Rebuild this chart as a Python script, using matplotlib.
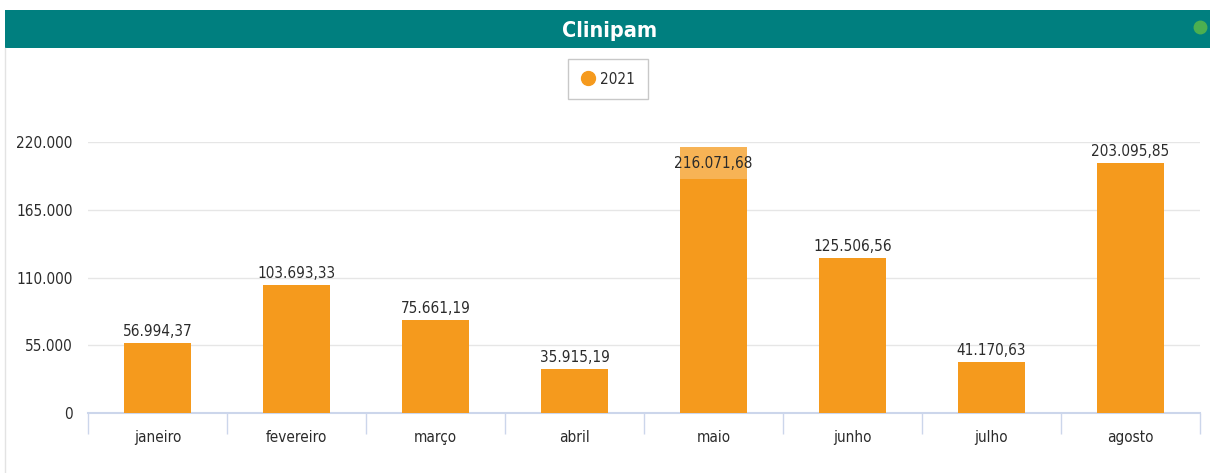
import matplotlib.pyplot as plt
from matplotlib.patches import Rectangle
from matplotlib.lines import Line2D

months = ["janeiro", "fevereiro", "março", "abril", "maio", "junho", "julho", "agosto"]
values_2021 = [56994.37, 103693.33, 75661.19, 35915.19, 216071.68, 125506.56, 41170.63, 203095.85]
y_ticks = [0, 55000, 110000, 165000, 220000]
series_name = "2021"
title = "Clinipam"

bar_color = "#F59A1D"
teal = "#007F7F"
text_color = "#2B2B2B"
axis_color = "#CCD6EB"
plt.rcParams["font.family"] = ["DejaVu Sans"]
plt.rcParams["font.stretch"] = "condensed"


def br_number(v, decimals=2):
    s = f"{v:,.{decimals}f}"
    return s.replace(",", "X").replace(".", ",").replace("X", ".")


fig = plt.figure(figsize=(12.1, 4.73), dpi=100)
fig.patch.set_facecolor("white")

# card border and header
fig.add_artist(Line2D([5 / 1210, 5 / 1210], [0, 1 - 48 / 473], transform=fig.transFigure,
                      color="#E3E3E3", lw=1))
fig.add_artist(Rectangle((5 / 1210, 1 - 48 / 473), 1, 38 / 473, transform=fig.transFigure,
                         facecolor=teal, edgecolor="none"))
fig.text(610 / 1210, 1 - 31 / 473, title, color="white", fontsize=15.5, fontweight="bold",
         ha="center", va="center")
fig.add_artist(Line2D([1200 / 1210], [1 - 27 / 473], transform=fig.transFigure,
                      marker="o", markersize=9, color="#4CAF50", ls=""))

ax = fig.add_axes([88 / 1210, 1 - 413 / 473, (1200 - 88) / 1210, (413 - 142) / 473])
x = range(len(months))
bar_width = 0.48
bars = ax.bar(x, values_2021, width=bar_width, color=bar_color, label=series_name, zorder=3)

ax.set_xlim(-0.5, len(months) - 0.5)
ax.set_ylim(0, 220000)
ax.set_yticks(y_ticks)
ax.set_yticklabels([br_number(t, 0) for t in y_ticks])
ax.set_xticks(list(x))
ax.set_xticklabels(months)
ax.set_xticks([i - 0.5 for i in range(len(months) + 1)], minor=True)
ax.tick_params(axis="x", which="major", length=0, pad=12, labelsize=11, labelcolor=text_color)
ax.tick_params(axis="x", which="minor", length=15, color=axis_color, width=1)
ax.tick_params(axis="y", length=0, pad=11, labelsize=11, labelcolor=text_color)
ax.grid(axis="y", color="#E6E6E6", lw=1, zorder=0)
for s in ["top", "right", "left"]:
    ax.spines[s].set_visible(False)
ax.spines["bottom"].set_color(axis_color)
ax.spines["bottom"].set_linewidth(1.5)

# data labels (the highest one does not fit above, so it goes inside on a light band)
for b, v in zip(bars, values_2021):
    cx = b.get_x() + b.get_width() / 2
    if v > 210000:
        band = 26000
        ax.bar(cx, band, width=bar_width, bottom=v - band, color="white", alpha=0.25,
               zorder=3.5)
        ax.text(cx, v - band / 2 - 600, br_number(v), ha="center", va="center", fontsize=11,
                color=text_color, zorder=4)
    else:
        ax.annotate(br_number(v), (cx, v), xytext=(0, 3), textcoords="offset points",
                    ha="center", va="bottom", fontsize=11, color=text_color, zorder=4)

# legend
leg = fig.legend(handles=[Line2D([], [], marker="o", ls="", color=bar_color, markersize=10)],
                 labels=[series_name], loc="center", bbox_to_anchor=(608 / 1210, 1 - 79 / 473),
                 fontsize=11, frameon=True, fancybox=False, edgecolor="#BBBBBB",
                 handletextpad=0.3, borderpad=0.8, handlelength=1.0, labelcolor=text_color)
leg.get_frame().set_linewidth(1)

fig.savefig("out.png", dpi=100, facecolor="white")
